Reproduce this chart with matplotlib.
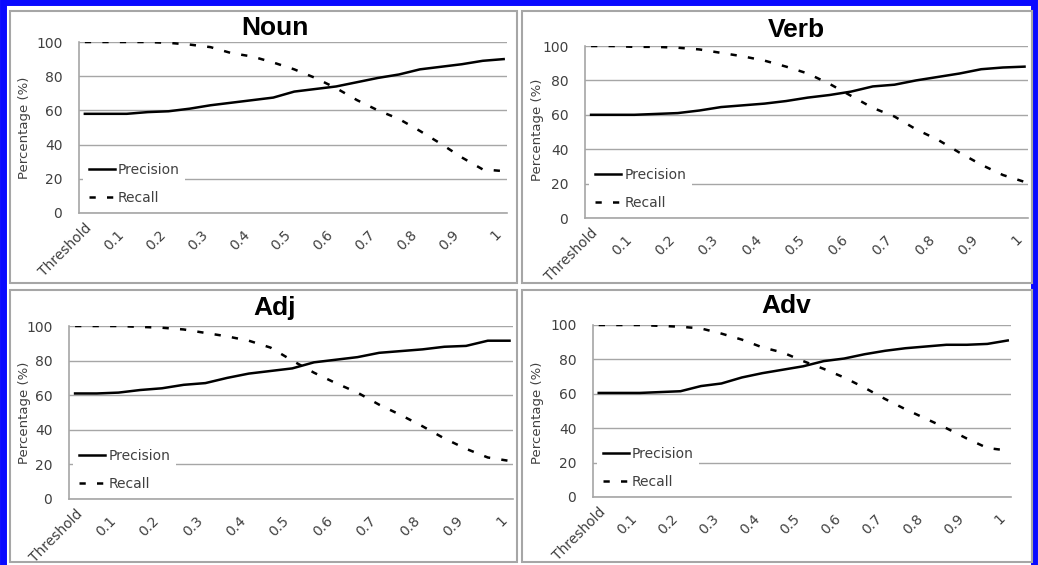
import numpy as np
import matplotlib
matplotlib.use('Agg')
import matplotlib.pyplot as plt
from matplotlib.patches import Rectangle
from matplotlib.transforms import ScaledTranslation

# thresholds read at 0.05 steps
thr = [0, 0.05, 0.1, 0.15, 0.2, 0.25, 0.3, 0.35, 0.4, 0.45, 0.5,
       0.55, 0.6, 0.65, 0.7, 0.75, 0.8, 0.85, 0.9, 0.95, 1]
tick_pos = [0, 0.1, 0.2, 0.3, 0.4, 0.5, 0.6, 0.7, 0.8, 0.9, 1]
tick_lab = ['Threshold', '0.1', '0.2', '0.3', '0.4', '0.5', '0.6', '0.7', '0.8', '0.9', '1']

noun_prec = [58, 58, 58, 59, 59.5, 61, 63, 64.5, 66, 67.5, 71, 72.5, 74, 76.5, 79, 81, 84, 85.5, 87, 89, 90]
noun_rec = [100, 100, 100, 100, 99.5, 98.5, 97, 93.5, 91.5, 88, 84, 79, 73, 66, 60, 55, 48, 40.5, 32.5, 25.5, 24.5]
verb_prec = [60, 60, 60, 60.5, 61, 62.5, 64.5, 65.5, 66.5, 68, 70, 71.5, 73.5, 76.5, 77.5, 80, 82, 84, 86.5, 87.5, 88]
verb_rec = [100, 100, 99.5, 99.5, 99, 98, 96, 94, 91.5, 88, 84, 78, 71, 64, 59, 51.5, 45.5, 38, 31, 25, 21]
adj_prec = [61, 61, 61.5, 63, 64, 66, 67, 70, 72.5, 74, 75.5, 79, 80.5, 82, 84.5, 85.5, 86.5, 88, 88.5, 91.5, 91.5]
adj_rec = [100, 100, 100, 99.5, 99, 98, 96, 94, 91.5, 87.5, 80, 73, 67, 61.5, 54.5, 48.5, 42, 35, 29, 24, 22]
adv_prec = [60.5, 60.5, 60.5, 61, 61.5, 64.5, 66, 69.5, 72, 74, 76, 79, 80.5, 83, 85, 86.5, 87.5, 88.5, 88.5, 89, 91]
adv_rec = [100, 100, 100, 99.5, 99, 98, 95, 91.5, 87, 84, 79, 74.5, 69.5, 63.5, 57, 51, 45.5, 40, 34, 28.5, 27]

panels = [
    ('Noun', noun_prec, noun_rec, (79, 507, 42, 213), (275, 28), (25, 128)),
    ('Verb', verb_prec, verb_rec, (585, 1028, 46, 218), (796, 30), (538, 130)),
    ('Adj', adj_prec, adj_rec, (69, 513, 326, 499), (275, 308), (25, 413)),
    ('Adv', adv_prec, adv_rec, (593, 1011, 325, 497), (786, 306), (538, 413)),
]

W, H = 1038, 565
fig = plt.figure(figsize=(W / 100, H / 100), dpi=100)
fig.patch.set_facecolor('white')

gray = '#a6a6a6'
txt = '#404040'

# outer blue frame and panel boxes
fig.patches.append(Rectangle((3 / W, -0.01), (W - 7) / W, (H - 2) / H + 0.01,
                             transform=fig.transFigure, fill=False,
                             edgecolor='#0a0aff', lw=5))
for (x0, x1, y0, y1) in [(10, 517, 11, 283), (522, 1032, 11, 283),
                         (10, 517, 290, 562), (522, 1032, 290, 562)]:
    fig.patches.append(Rectangle((x0 / W, 1 - y1 / H), (x1 - x0) / W, (y1 - y0) / H,
                                 transform=fig.transFigure, fill=False,
                                 edgecolor=gray, lw=1.5))

shift = ScaledTranslation(-10 / 100, -6 / 100, fig.dpi_scale_trans)

for name, prec, rec, (l, r, t, b), (tx, ty), (yx, yy) in panels:
    ax = fig.add_axes([l / W, 1 - b / H, (r - l) / W, (b - t) / H])
    ax.set_facecolor('none')
    ax.plot(thr, prec, color='black', lw=1.8, label='Precision')
    ax.plot(thr, rec, color='black', lw=1.8, linestyle=(0, (2.5, 4.5)), label='Recall')
    ax.set_xlim(-0.014, 1.008)
    ax.set_ylim(0, 100)
    ax.set_yticks([0, 20, 40, 60, 80, 100])
    ax.tick_params(length=0, labelsize=10, labelcolor=txt)
    ax.tick_params(axis='y', pad=12)
    ax.tick_params(axis='x', pad=6)
    ax.set_xticks(tick_pos)
    ax.set_xticklabels(tick_lab, rotation=45, ha='right', va='top',
                       rotation_mode='anchor')
    for i, lab in enumerate(ax.get_xticklabels()):
        if i > 0:
            lab.set_transform(lab.get_transform() + shift)
    ax.grid(axis='y', color=gray, lw=1)
    ax.set_axisbelow(True)
    for s in ['top', 'right']:
        ax.spines[s].set_visible(False)
    for s in ['left', 'bottom']:
        ax.spines[s].set_color(gray)
        ax.spines[s].set_linewidth(1.2)
    leg = ax.legend(loc='lower left', bbox_to_anchor=(0.01, 0.015), borderaxespad=0,
                    frameon=True, facecolor='white', edgecolor='none', framealpha=1,
                    fancybox=False, fontsize=10, handlelength=1.9, handletextpad=0.2,
                    labelspacing=1.0, borderpad=0.4)
    for tt in leg.get_texts():
        tt.set_color(txt)
    fig.text(tx / W, 1 - ty / H, name, ha='center', va='center',
             fontsize=19, fontweight='bold', family='Liberation Sans')
    fig.text(yx / W, 1 - yy / H, 'Percentage (%)', ha='center', va='center',
             rotation=90, fontsize=9.5, color=txt)

plt.savefig('out.png', dpi=100)
